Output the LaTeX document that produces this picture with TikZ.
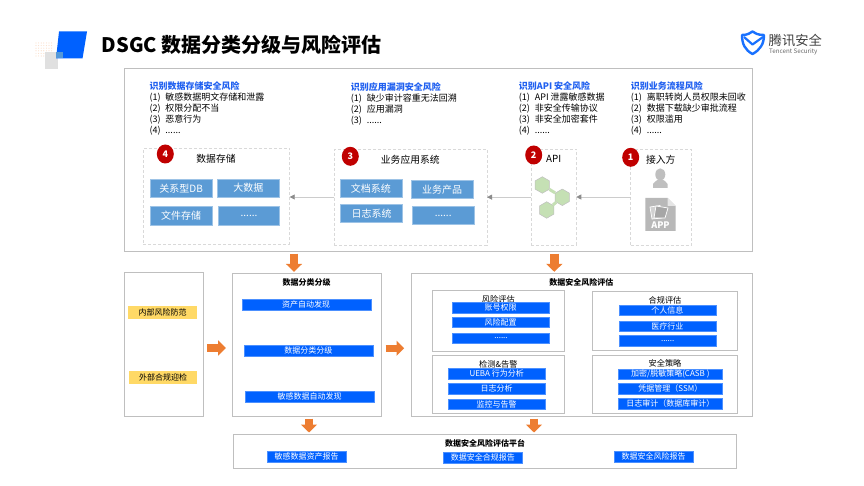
\documentclass[tikz,border=0pt]{standalone}
\usepackage{fontspec}
\setmainfont{Noto Sans CJK SC}
\usepackage{xcolor}
\usetikzlibrary{arrows.meta, shapes.geometric}
\definecolor{cBlue}{RGB}{0,97,255}
\definecolor{cTitle}{RGB}{32,96,240}
\definecolor{cSky}{RGB}{91,155,213}
\definecolor{cSkyEdge}{RGB}{157,195,230}
\definecolor{cOrange}{RGB}{237,125,49}
\definecolor{cYellow}{RGB}{255,217,102}
\definecolor{cRed}{RGB}{192,0,0}
\definecolor{cEdge}{RGB}{191,191,191}
\definecolor{cLeaf}{RGB}{197,224,180}
\newcommand{\ritem}[2]{\makebox[16pt][l]{#1}#2}
\tikzset{
	box/.style 2 args={minimum width=#1pt, minimum height=#2pt},
	panel/.style={rectangle, draw=cEdge, line width=1pt, fill=white, anchor=north west, inner sep=0pt, outer sep=0pt},
	dashbox/.style={rectangle, draw=black!15, densely dashed, line width=0.8pt, anchor=north west, inner sep=0pt, outer sep=0pt},
	sky/.style={rectangle, fill=cSky, draw=cSkyEdge, line width=0.6pt, text=white, inner sep=0pt, minimum width=62pt, minimum height=18.5pt, font=\fontsize{10}{11}\selectfont},
	bar/.style={rectangle, fill=cBlue, draw=cBlue!70!white, line width=0.4pt, text=white, inner sep=0pt, minimum height=10.4pt, font=\fontsize{8}{10}\selectfont},
	tagbox/.style={rectangle, fill=cYellow, inner sep=0pt, minimum width=68.5pt, minimum height=12.7pt, font=\fontsize{8}{10}\selectfont},
	badge/.style={ellipse, fill=cRed, text=white, inner sep=0pt, minimum width=17pt, minimum height=19pt, font=\fontsize{9}{11}\bfseries\selectfont},
	boxname/.style={inner sep=0pt, font=\fontsize{9.8}{12}\selectfont},
	subname/.style={inner sep=0pt, font=\fontsize{8.2}{10}\selectfont},
	headname/.style={inner sep=0pt, font=\fontsize{8}{10}\bfseries\selectfont},
	risktitle/.style={anchor=west, inner sep=0pt, text=cTitle, font=\fontsize{9}{11}\bfseries\selectfont},
	risklist/.style={anchor=north west, inner sep=0pt, align=left, font=\fontsize{9}{11}\selectfont},
	thin arrow/.style={draw=black!20, line width=0.8pt, -{Triangle[length=5pt, width=5pt, color=black!45]}},
	block/.style={draw=cOrange, line width=#1pt, -{Triangle[length=8pt, width=16pt, color=cOrange]}, shorten <=2pt, shorten >=1.5pt},
	block/.default=8.5,
	sideblock/.style={draw=cOrange, line width=7.3pt, -{Triangle[length=7.7pt, width=14.7pt, color=cOrange]}, shorten <=3.8pt, shorten >=6.8pt},
	leaf/.style={regular polygon, regular polygon sides=6, rotate=30, fill=cLeaf, draw=black!25, line width=0.5pt, minimum size=16.5pt, inner sep=0pt},
}
\begin{document}
\begin{tikzpicture}[x=1pt, y=-1pt]
	\useasboundingbox (0,0) rectangle (864,486);
	% heading mark
	\foreach \i in {0,...,6} {
		\foreach \j in {0,...,5} {
			\fill[cOrange!25] (36+\i*2.6,43+\j*2.6) circle (0.6);
		}
	}
	\fill[black!12] (45,52) rectangle (58,69);
	\fill[cBlue] (59,31.5) -- (87,31.5) -- (82.5,58.5) -- (56,58.5) -- cycle;
	\fill[cyan!60!blue!70] (56,52) rectangle (63,58.5);
	\node[anchor=west, inner sep=0pt, font=\fontsize{20}{24}\bfseries\selectfont] (heading) at (101.5,45) {DSGC 数据分类分级与风险评估};
	% logo
	\draw[cBlue!90!white, line width=2.4pt, line join=round] (742,35) .. controls (748,35) and (750,33) .. (752.5,31.5) .. controls (755,33) and (757,35) .. (764,35) .. controls (764,44) and (760,50) .. (752.5,54) .. controls (745,50) and (742,44) .. (742,35) -- cycle;
	\draw[cBlue!90!white, line width=2.2pt, line join=round] (744,37) -- (752.5,44.5) -- (763,37);
	\node[anchor=west, inner sep=0pt, text=black!75, font=\fontsize{13.3}{15}\selectfont] (logoname) at (768.5,40.5) {腾讯安全};
	\node[anchor=west, inner sep=0pt, text=black!60, font=\fontsize{6.2}{8}\selectfont] (logosub) at (769,51.7) {Tencent Security};

	% top panel
	\node[panel, box={628}{182.6}] (toppanel) at (124,69) {};
	\node[risktitle] (risk4) at (149.3,86) {识别数据存储安全风险};
	\node[risklist] (list4) at (149.3,92.8) {\ritem{(1)}{敏感数据明文存储和泄露}\\\ritem{(2)}{权限分配不当}\\\ritem{(3)}{恶意行为}\\\ritem{(4)}{......}};
	\node[risktitle] (risk3) at (350.7,86.7) {识别应用漏洞安全风险};
	\node[risklist] (list3) at (350.7,94) {\ritem{(1)}{缺少审计容重无法回溯}\\\ritem{(2)}{应用漏洞}\\\ritem{(3)}{......}};
	\node[risktitle] (risk2) at (518.7,85.7) {识别API 安全风险};
	\node[risklist] (list2) at (518.7,93) {\ritem{(1)}{API 泄露敏感数据}\\\ritem{(2)}{非安全传输协议}\\\ritem{(3)}{非安全加密套件}\\\ritem{(4)}{......}};
	\node[risktitle] (risk1) at (630.7,85.7) {识别业务流程风险};
	\node[risklist] (list1) at (630.7,93) {\ritem{(1)}{离职转岗人员权限未回收}\\\ritem{(2)}{数据下载缺少审批流程}\\\ritem{(3)}{权限滥用}\\\ritem{(4)}{......}};

	\node[dashbox, box={146.4}{95.4}] (storage) at (143.3,148.7) {};
	\node[dashbox, box={152.7}{96}] (appsys) at (334.3,149) {};
	\node[dashbox, box={45}{96.3}] (api) at (531.3,149) {};
	\node[dashbox, box={60.6}{96}] (entry) at (630.7,149) {};
	\node[boxname] (storagename) at (216,158.7) {数据存储};
	\node[boxname] (appsysname) at (410.3,159.7) {业务应用系统};
	\node[boxname] (apiname) at (553.7,159) {API};
	\node[boxname] (entryname) at (660.7,159.3) {接入方};
	\node[badge] (badge4) at (165.3,154) {4};
	\node[badge] (badge3) at (350.3,156.3) {3};
	\node[badge] (badge2) at (533.7,155) {2};
	\node[badge] (badge1) at (630.7,157.3) {1};

	\node[sky] (relational) at (181.2,188.5) {关系型DB};
	\node[sky, minimum height=18pt] (bigdata) at (248.4,188) {大数据};
	\node[sky] (filestore) at (181.2,215.7) {文件存储};
	\node[sky, minimum width=61.4pt] (moredata) at (249,215.7) {......};
	\node[sky] (docsys) at (370.8,188.2) {文档系统};
	\node[sky] (product) at (442.2,189.5) {业务产品};
	\node[sky] (logsys) at (371.6,213.5) {日志系统};
	\node[sky] (moreapp) at (443.2,215.5) {......};

	\draw[thin arrow] (entry.west) -- (entry.west -| api.east);
	\draw[thin arrow] (api.west) -- (api.west -| appsys.east);
	\draw[thin arrow] (appsys.west) -- (appsys.west -| storage.east);

	% api icon
	\node[leaf] (hexa) at (542.3,185) {};
	\node[leaf] (hexb) at (562.3,197.3) {};
	\node[leaf] (hexc) at (546.7,210) {};
	\draw[cLeaf, line width=3pt] (hexa) -- (hexb);
	\draw[cLeaf, line width=3pt] (hexc) -- (hexb);
	% entry icons
	\fill[black!25] (660.3,174.5) ellipse (5 and 6.2);
	\fill[black!25] (653,188) -- (653,184) .. controls (654,181.5) and (657,181) .. (658,179.5) -- (662.5,179.5) .. controls (664,181) and (667,181.5) .. (667.5,184) -- (667.5,188) -- cycle;
	\fill[black!28] (645.3,198) -- (667.5,198) -- (675.7,206) -- (675.7,231) -- (645.3,231) -- cycle;
	\fill[black!10] (667.5,198) -- (667.5,206) -- (675.7,206) -- cycle;
	\draw[white, line width=0.7pt, fill=black!18] (650,207) -- (660,205.5) -- (662,218) -- (652,219) -- cycle;
	\draw[white, line width=0.7pt, fill=black!35] (656,206) -- (668,208) -- (665,218) -- (654,218) -- cycle;
	\node[inner sep=0pt, text=white, font=\fontsize{9}{10}\bfseries\selectfont] (apptext) at (660.5,225) {APP};

	% lower panels
	\node[panel, box={79}{143.4}] (driver) at (124.3,272.7) {};
	\node[tagbox] (inner) at (162.5,312.3) {内部风险防范};
	\node[tagbox, minimum width=68pt] (outer) at (163,377.6) {外部合规迎检};

	\node[panel, box={149}{143.4}] (classify) at (232.7,273.3) {};
	\node[headname] (classifyname) at (306.7,282) {数据分类分级};
	\node[bar, minimum width=129pt] (discover) at (306.2,304.5) {资产自动发现};
	\node[bar, minimum width=129pt] (grading) at (308.3,350.7) {数据分类分级};
	\node[bar, minimum width=129pt] (sensitive) at (309.5,396.5) {敏感数据自动发现};

	\node[panel, box={341}{143.4}] (assess) at (411,273.3) {};
	\node[headname] (assessname) at (581.3,282) {数据安全风险评估};

	\node[panel, box={131.7}{61.7}] (riskeval) at (432.3,290) {};
	\node[panel, box={144.6}{59}] (comply) at (592.7,291.3) {};
	\node[panel, box={132.4}{58}] (detect) at (432.3,355.7) {};
	\node[panel, box={144.6}{58.4}] (policy) at (592.7,355.3) {};
	\node[subname] (riskevalname) at (498.3,299) {风险评估};
	\node[subname] (complyname) at (665,300) {合规评估};
	\node[subname] (detectname) at (498.3,364.3) {检测\&告警};
	\node[subname] (policyname) at (665,363.7) {安全策略};

	\node[bar, minimum width=97pt] (account) at (500.5,307.5) {账号权限};
	\node[bar, minimum width=97pt] (config) at (500.5,322.2) {风险配置};
	\node[bar, minimum width=97pt] (morerisk) at (501,338.3) {......};
	\node[bar, minimum width=97pt] (person) at (667.3,310) {个人信息};
	\node[bar, minimum width=97pt] (medical) at (667.3,326.2) {医疗行业};
	\node[bar, minimum width=97pt] (morecomply) at (667.7,340.8) {......};
	\node[bar, minimum width=97pt] (ueba) at (496.7,373.8) {UEBA 行为分析};
	\node[bar, minimum width=97pt] (logcheck) at (496.5,388.5) {日志分析};
	\node[bar, minimum width=97pt] (monitor) at (496.5,404.2) {监控与告警};
	\node[bar, minimum width=103.3pt] (casb) at (670.3,374.2) {加密/脱敏策略(CASB )};
	\node[bar, minimum width=103.3pt] (ssm) at (670.3,388.8) {凭据管理（SSM）};
	\node[bar, minimum width=103.3pt] (dbaudit) at (670.3,403.8) {日志审计（数据库审计）};

	\node[panel, box={503.7}{34.7}] (platform) at (233,434) {};
	\node[headname] (platformname) at (485,443.3) {数据安全风险评估平台};
	\node[bar, minimum width=79.6pt] (assetrep) at (306.5,456.8) {敏感数据资产报告};
	\node[bar, minimum width=79.6pt] (complyrep) at (482.8,457.8) {数据安全合规报告};
	\node[bar, minimum width=79pt] (riskrep) at (653.5,456.5) {数据安全风险报告};

	\draw[block] (294,0 |- toppanel.south) -- (294,0 |- classify.north);
	\draw[block] (554.3,0 |- toppanel.south) -- (554.3,0 |- assess.north);
	\draw[sideblock] (driver.east |- 0,348) -- (classify.west |- 0,348);
	\draw[sideblock] (classify.east |- 0,348.3) -- (assess.west |- 0,348.3);
	\draw[block] (309,0 |- classify.south) -- (309,0 |- platform.north);
	\draw[block] (534,0 |- assess.south) -- (534,0 |- platform.north);
\end{tikzpicture}
\end{document}
